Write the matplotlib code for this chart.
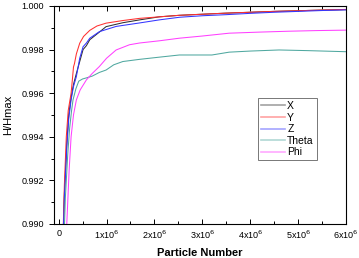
import numpy as np
import matplotlib
matplotlib.use("Agg")
import matplotlib.pyplot as plt
from matplotlib.ticker import MultipleLocator, FuncFormatter

plt.rcParams["font.family"] = ["Liberation Sans", "DejaVu Sans"]

# particle number (x1e6) and H/Hmax for each variable
x_x = [0.08, 0.12, 0.17, 0.21, 0.26, 0.31, 0.37, 0.44, 0.51, 0.58, 0.65, 0.85, 0.99, 1.34,
       1.69, 2.1, 2.52, 3.0, 3.5, 4.0, 4.5, 5.0, 5.5, 6.0]
h_x = [0.9885, 0.9914, 0.9937, 0.9950, 0.9958, 0.9964, 0.9969, 0.99745, 0.9980, 0.99818,
       0.99845, 0.9988, 0.99905, 0.99923, 0.99936, 0.9995, 0.99957, 0.99962, 0.99967,
       0.99971, 0.99975, 0.99978, 0.99981, 0.99983]

x_y = [0.08, 0.12, 0.16, 0.2, 0.26, 0.29, 0.31, 0.33, 0.37, 0.44, 0.52, 0.65, 0.8, 0.99,
       1.34, 1.69, 2.1, 2.52, 3.0, 3.5, 4.0, 4.5, 5.0, 5.5, 6.0]
h_y = [0.9885, 0.9918, 0.9940, 0.9952, 0.9960, 0.9967, 0.9972, 0.99735, 0.9978, 0.99829,
       0.9986, 0.99888, 0.99908, 0.99921, 0.99933, 0.99943, 0.9995, 0.99957, 0.99962,
       0.99967, 0.99971, 0.99975, 0.99978, 0.99981, 0.99984]

x_z = [0.08, 0.12, 0.17, 0.21, 0.26, 0.31, 0.37, 0.44, 0.51, 0.58, 0.65, 0.85, 1.2, 1.69,
       2.1, 2.52, 3.0, 3.5, 4.0, 4.5, 5.0, 5.5, 6.0]
h_z = [0.9885, 0.9912, 0.9935, 0.9948, 0.99569, 0.9963, 0.99676, 0.9976, 0.99813, 0.9983,
       0.99852, 0.99882, 0.99906, 0.99922, 0.99936, 0.99948, 0.99955, 0.9996, 0.99966,
       0.99971, 0.99975, 0.99979, 0.99982]

x_theta = [0.1, 0.14, 0.19, 0.23, 0.27, 0.3, 0.36, 0.42, 0.5, 0.58, 0.7, 0.85, 0.99, 1.15,
           1.34, 1.69, 2.1, 2.52, 3.2, 3.56, 4.0, 4.6, 5.2, 6.0]
h_theta = [0.9885, 0.9912, 0.9932, 0.9944, 0.9952, 0.99569, 0.9962, 0.99655, 0.99665,
           0.9967, 0.99678, 0.99695, 0.99706, 0.9973, 0.99745, 0.99755, 0.99765, 0.99775,
           0.99775, 0.99788, 0.99793, 0.99798, 0.99795, 0.9979]

x_phi = [0.14, 0.18, 0.22, 0.26, 0.31, 0.37, 0.45, 0.58, 0.7, 0.85, 1.0, 1.2, 1.48, 1.69,
         2.1, 2.52, 3.0, 3.56, 4.2, 4.8, 5.4, 6.0]
h_phi = [0.9885, 0.9905, 0.9925, 0.9940, 0.9950, 0.99569, 0.99615, 0.99661, 0.9969,
         0.99722, 0.9976, 0.99798, 0.99822, 0.9983, 0.9984, 0.99852, 0.99862, 0.99875,
         0.9988, 0.99884, 0.99887, 0.99889]

series = [
    ("X", x_x, h_x, "#303030"),
    ("Y", x_y, h_y, "#ff3030"),
    ("Z", x_z, h_z, "#3535ff"),
    ("Theta", x_theta, h_theta, "#50a8a0"),
    ("Phi", x_phi, h_phi, "#ff40ff"),
]

fig = plt.figure(figsize=(3.59, 2.58), dpi=100)
ax = fig.add_axes([0.150, 0.132, 0.814, 0.845])

for label, xs, hs, color in series:
    ax.plot(np.array(xs) * 1e6, hs, color=color, lw=0.75, label=label)

ax.set_xlim(-1e5, 6e6)
ax.set_ylim(0.990, 1.000)

ax.xaxis.set_major_locator(MultipleLocator(1e6))
ax.xaxis.set_minor_locator(MultipleLocator(5e5))
ax.yaxis.set_major_locator(MultipleLocator(0.002))
ax.yaxis.set_minor_locator(MultipleLocator(0.001))


def fmt_x(v, pos):
    n = int(round(v / 1e6))
    if n == 0:
        return "0"
    return r"%dx10$^{6}$" % n


ax.xaxis.set_major_formatter(FuncFormatter(fmt_x))
ax.yaxis.set_major_formatter(FuncFormatter(lambda v, p: "%.3f" % v))

ax.tick_params(axis="both", which="both", labelsize=6.5, width=0.7)
ax.tick_params(axis="both", which="major", length=3.5)
ax.tick_params(axis="both", which="minor", length=2)
ax.tick_params(axis="x", which="both", direction="inout")
ax.tick_params(top=True, which="both", direction="in", axis="x")
for s in ax.spines.values():
    s.set_linewidth(0.8)

ax.set_xlabel("Particle Number", fontsize=8, fontweight="bold", labelpad=5)
ax.set_ylabel("H/Hmax", fontsize=8, labelpad=6)

leg = ax.legend(loc="upper left", bbox_to_anchor=(0.697, 0.578), fontsize=7.5,
                frameon=True, fancybox=False, edgecolor="#555555", handlelength=2.3,
                handletextpad=0.25, borderpad=0.3, labelspacing=0.15, borderaxespad=0)
leg.get_frame().set_linewidth(0.7)
for line in leg.get_lines():
    line.set_alpha(0.45)
    line.set_linewidth(1.2)

fig.savefig("out.png", dpi=100)
